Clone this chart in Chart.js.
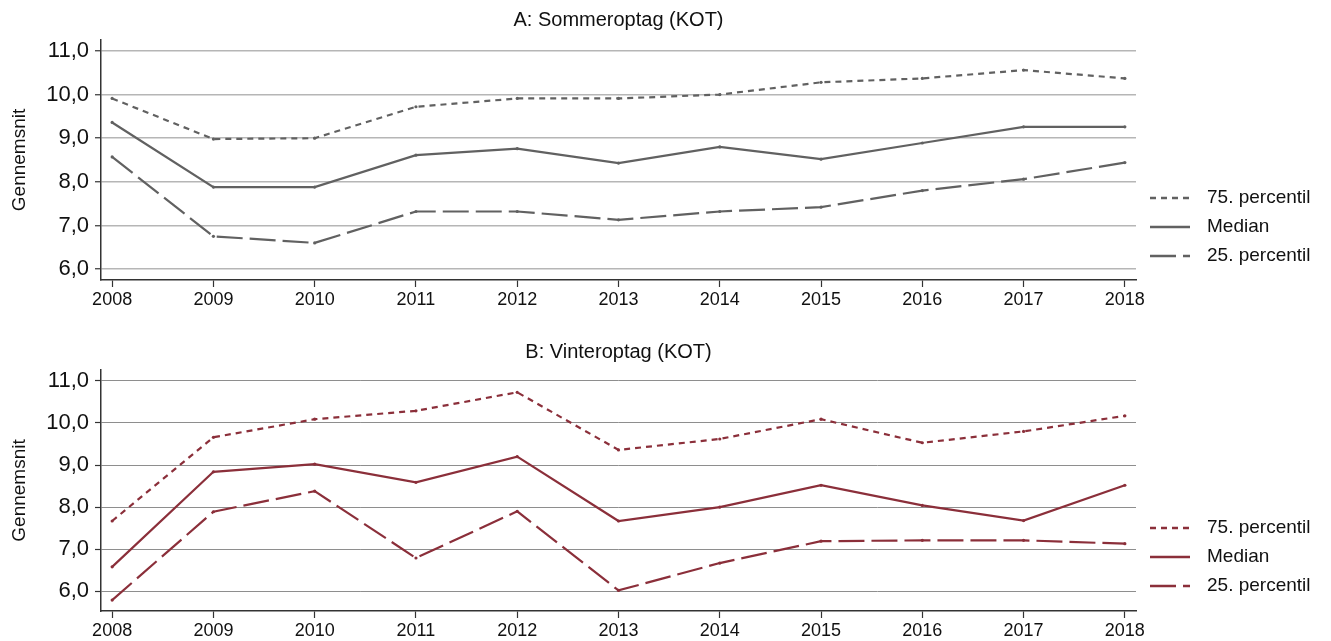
<!DOCTYPE html>
<html>
<head>
<meta charset="utf-8">
<script src="https://cdn.jsdelivr.net/npm/chart.js@4/dist/chart.umd.min.js"></script>
<style>
  body { margin: 0; background: #fff; }
  .wrap { position: absolute; left: 0; width: 1331px; }
  #top { top: 0; height: 330px; }
  #bottom { top: 330px; height: 311px; }
</style>
</head>
<body>
<div class="wrap" id="top"><canvas id="chartA" width="1331" height="330"></canvas></div>
<div class="wrap" id="bottom"><canvas id="chartB" width="1331" height="311"></canvas></div>
<script>
const years = [2008, 2009, 2010, 2011, 2012, 2013, 2014, 2015, 2016, 2017, 2018];
const yTicks = [6, 7, 8, 9, 10, 11];
const seriesNames = ["75. percentil", "Median", "25. percentil"];

// A: Sommeroptag
const summerP75 = [9.91, 8.98, 9.00, 9.72, 9.91, 9.91, 10.00, 10.28, 10.37, 10.56, 10.37];
const summerMedian = [9.36, 7.88, 7.88, 8.61, 8.76, 8.43, 8.80, 8.52, 8.89, 9.26, 9.26];
const summerP25 = [8.57, 6.75, 6.60, 7.32, 7.32, 7.13, 7.32, 7.42, 7.80, 8.06, 8.44];

// B: Vinteroptag
const winterP75 = [7.67, 9.66, 10.09, 10.29, 10.73, 9.36, 9.62, 10.09, 9.53, 9.80, 10.17];
const winterMedian = [6.58, 8.84, 9.02, 8.59, 9.20, 7.67, 8.00, 8.52, 8.04, 7.68, 8.52];
const winterP25 = [5.79, 7.89, 8.38, 6.79, 7.90, 6.02, 6.67, 7.19, 7.21, 7.21, 7.13];

const FONT = "'Liberation Sans', Arial, sans-serif";
const dashes = [[6, 5], [], [26, 7]];

// draws the title over the plot and the legend in the right margin
const decor = {
  id: "decor",
  afterDraw(chart, args, opts) {
    const ctx = chart.ctx;
    const area = chart.chartArea;
    ctx.save();
    ctx.fillStyle = "#111";
    ctx.font = "20px " + FONT;
    ctx.textAlign = "center";
    ctx.textBaseline = "middle";
    ctx.fillText(opts.title, (area.left + area.right) / 2, opts.titleY);

    ctx.font = "19px " + FONT;
    ctx.textAlign = "left";
    chart.data.datasets.forEach((ds, i) => {
      const y = 198 + i * 29;
      ctx.strokeStyle = ds.borderColor;
      ctx.lineWidth = 2.4;
      ctx.setLineDash(ds.borderDash || []);
      ctx.beginPath();
      ctx.moveTo(1150, y);
      ctx.lineTo(1190, y);
      ctx.stroke();
      ctx.setLineDash([]);
      ctx.fillStyle = "#111";
      ctx.fillText(ds.label, 1207, y);
    });
    ctx.restore();
  },
};

function makeChart(id, values, color, gridColor, gridWidth, yMin, yMax, xHeight, title, titleY) {
  const datasets = values.map((vals, i) => ({
    label: seriesNames[i],
    data: years.map((yr, j) => ({ x: yr, y: vals[j] })),
    borderColor: color,
    backgroundColor: color,
    borderWidth: 2.2,
    borderDash: dashes[i],
    pointRadius: 1.6,
    pointBorderWidth: 0,
    pointBackgroundColor: color,
    tension: 0,
  }));

  return new Chart(document.getElementById(id), {
    type: "line",
    data: { datasets },
    plugins: [decor],
    options: {
      responsive: false,
      animation: false,
      layout: { padding: { left: 0, right: 195, top: 40, bottom: 0 } },
      plugins: {
        legend: { display: false },
        tooltip: { enabled: false },
        decor: { title, titleY },
      },
      scales: {
        x: {
          type: "linear",
          min: 2007.89,
          max: 2018.11,
          afterBuildTicks: (s) => { s.ticks = years.map((v) => ({ value: v })); },
          afterFit: (s) => { s.height = xHeight; },
          ticks: {
            callback: (v) => String(v),
            color: "#111",
            font: { family: FONT, size: 18 },
            padding: 2,
            maxRotation: 0,
            autoSkip: false,
          },
          grid: { drawOnChartArea: false, tickLength: 7, tickColor: "#333", tickWidth: 1.2 },
          border: { color: "#333", width: 1.5 },
        },
        y: {
          min: yMin,
          max: yMax,
          afterBuildTicks: (s) => { s.ticks = yTicks.map((v) => ({ value: v })); },
          afterFit: (s) => { s.width = 101; },
          ticks: {
            callback: (v) => v.toFixed(1).replace(".", ","),
            color: "#111",
            font: { family: FONT, size: 22 },
            padding: 6,
          },
          grid: { color: gridColor, lineWidth: gridWidth, tickLength: 6, tickColor: "#333", tickWidth: 1.2 },
          border: { color: "#333", width: 1.5 },
          title: {
            display: true,
            text: "Gennemsnit",
            color: "#111",
            font: { family: FONT, size: 19 },
            padding: { top: 8, bottom: 0 },
          },
        },
      },
    },
  });
}

makeChart("chartA", [summerP75, summerMedian, summerP25], "#616161", "#b6b6b6", 1.5,
  5.75, 11.25, 50, "A: Sommeroptag (KOT)", 20);
makeChart("chartB", [winterP75, winterMedian, winterP25], "#8b2f3a", "#8e8e8e", 1,
  5.53, 11.26, 30, "B: Vinteroptag (KOT)", 22);
</script>
</body>
</html>
